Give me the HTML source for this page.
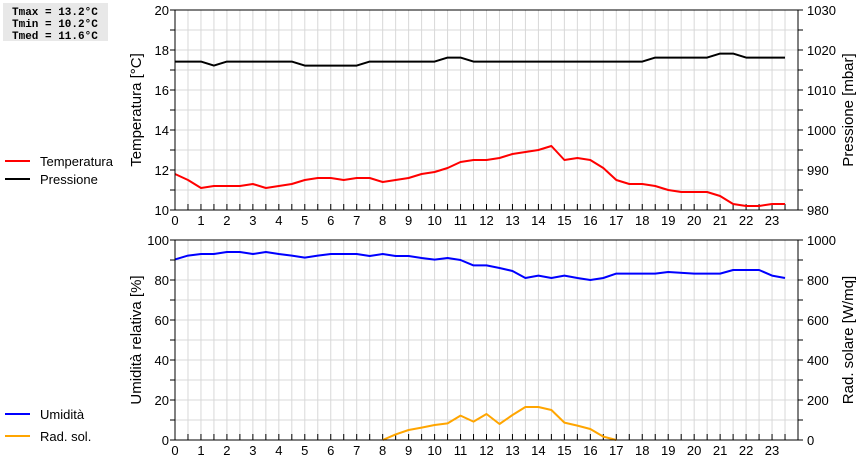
<!DOCTYPE html>
<html><head><meta charset="utf-8">
<style>
html,body{margin:0;padding:0;background:#fff;}
svg{display:block;font-family:"Liberation Sans",sans-serif;}
</style></head>
<body>
<svg id="chart" width="860" height="460" viewBox="0 0 860 460">
  <g>
    <rect x="3" y="3" width="105" height="38" fill="#e8e8e8"></rect>
    <text x="12" y="15" font-family="Liberation Mono, monospace" font-weight="bold" font-size="11">Tmax = 13.2°C</text>
    <text x="12" y="27" font-family="Liberation Mono, monospace" font-weight="bold" font-size="11">Tmin = 10.2°C</text>
    <text x="12" y="39" font-family="Liberation Mono, monospace" font-weight="bold" font-size="11">Tmed = 11.6°C</text>
  </g>
  <g>
    <line x1="5" y1="161" x2="30" y2="161" stroke="#f00" stroke-width="2"></line>
    <text x="40" y="166" font-size="13">Temperatura</text>
    <line x1="5" y1="179" x2="30" y2="179" stroke="#000" stroke-width="2"></line>
    <text x="40" y="184" font-size="13">Pressione</text>
  </g>
  <g>
    <line x1="5" y1="414" x2="30" y2="414" stroke="#00f" stroke-width="2"></line>
    <text x="40" y="419" font-size="13">Umidità</text>
    <line x1="5" y1="436" x2="30" y2="436" stroke="orange" stroke-width="2"></line>
    <text x="40" y="441" font-size="13">Rad. sol.</text>
  </g>
  <g id="plots"></g>
</svg>
<script>
const tempHours = [0,0.5,1,1.5,2,2.5,3,3.5,4,4.5,5,5.5,6,6.5,7,7.5,8,8.5,9,9.5,10,10.5,11,11.5,12,12.5,13,13.5,14,14.5,15,15.5,16,16.5,17,17.5,18,18.5,19,19.5,20,20.5,21,21.5,22,22.5,23,23.5];
const tempValues = [11.8,11.5,11.1,11.2,11.2,11.2,11.3,11.1,11.2,11.3,11.5,11.6,11.6,11.5,11.6,11.6,11.4,11.5,11.6,11.8,11.9,12.1,12.4,12.5,12.5,12.6,12.8,12.9,13.0,13.2,12.5,12.6,12.5,12.1,11.5,11.3,11.3,11.2,11.0,10.9,10.9,10.9,10.7,10.3,10.2,10.2,10.3,10.3];
const presHours = [0,1,1.5,2,4.5,5,7,7.5,10,10.5,11,11.5,18,18.5,20.5,21,21.5,22,23.5];
const presValues = [1017.1,1017.1,1016.1,1017.1,1017.1,1016.1,1016.1,1017.1,1017.1,1018.1,1018.1,1017.1,1017.1,1018.1,1018.1,1019.1,1019.1,1018.1,1018.1];
const humHours = [0,0.5,1,1.5,2,2.5,3,3.5,4,4.5,5,5.5,6,7,7.5,8,8.5,9,9.5,10,10.5,11,11.5,12,12.5,13,13.5,14,14.5,15,15.5,16,16.5,17,18.5,19,20,21,21.5,22.5,23,23.5];
const humValues = [90.3,92.2,93,93,94,94,93,94,93,92.2,91.2,92.2,93,93,92,93,92,92,91,90.2,91,90,87.3,87.3,86,84.5,81,82.2,81,82.2,81,80,81,83.2,83.2,84,83.2,83.2,85,85,82.2,81];
const radHours = [8,8.5,9,9.5,10,10.5,11,11.5,12,12.5,13,13.5,14,14.5,15,15.5,16,16.5,17];
const radValues = [0,28,50,62,75,83,122,92,130,80,125,165,165,150,87,72,55,17,0];
const xTickLabels = [0,1,2,3,4,5,6,7,8,9,10,11,12,13,14,15,16,17,18,19,20,21,22,23];
const tempTicks = [10,12,14,16,18,20];
const presTicks = [980,990,1000,1010,1020,1030];
const humTicks = [0,20,40,60,80,100];
const radTicks = [0,200,400,600,800,1000];

const NS="http://www.w3.org/2000/svg";
const X0=175, X1=798;
const xs = h => X0 + h*(X1-X0)/24;
function mk(parent, tag, attrs){const e=document.createElementNS(NS,tag);for(const k in attrs)e.setAttribute(k,attrs[k]);parent.appendChild(e);return e;}
const root=document.getElementById('plots');

function panel(name, top, bot, lMin, lMax, rMin, rMax, lTicks, rTicks, lTitle, rTitle, minorStep){
  const g=mk(root,'g',{});
  
  
  const yl=v=>bot-(v-lMin)*(bot-top)/(lMax-lMin);
  const yr=v=>bot-(v-rMin)*(bot-top)/(rMax-rMin);
  for(let h=0.5;h<24;h+=0.5){const l=mk(g,'line',{x1:xs(h),x2:xs(h),y1:top,y2:bot,stroke:'#d8d8d8','stroke-width':1});
    
    }
  for(let v=lMin+minorStep;v<lMax;v+=minorStep){const l=mk(g,'line',{x1:X0,x2:X1,y1:yl(v),y2:yl(v),stroke:'#d8d8d8','stroke-width':1});
    
    }
  for(let h=0.5;h<24;h+=0.5){mk(g,'line',{x1:xs(h),x2:xs(h),y1:bot,y2:bot-6,stroke:'#000'});}
  xTickLabels.forEach(t=>{const e=mk(g,'text',{x:xs(t),y:bot+15,'font-size':13,'text-anchor':'middle'});e.textContent=t;
    
    });
  for(let v=lMin;v<=lMax;v+=minorStep){mk(g,'line',{x1:X0-5,x2:X0,y1:yl(v),y2:yl(v),stroke:'#000'});mk(g,'line',{x1:X1,x2:X1+5,y1:yl(v),y2:yl(v),stroke:'#000'});}
  lTicks.forEach(t=>{const e=mk(g,'text',{x:X0-6,y:yl(t)+5,'font-size':13,'text-anchor':'end'});e.textContent=t;
    
    });
  rTicks.forEach(t=>{const e=mk(g,'text',{x:X1+9,y:yr(t)+5,'font-size':13});e.textContent=t;
    
    });
  const lt=mk(g,'text',{x:0,y:0,'font-size':15,'text-anchor':'middle',transform:`translate(141,${(top+bot)/2}) rotate(-90)`});lt.textContent=lTitle;
  
  
  const rt=mk(g,'text',{x:0,y:0,'font-size':15,'text-anchor':'middle',transform:`translate(853,${(top+bot)/2}) rotate(-90)`});rt.textContent=rTitle;
  
  
  return {g,yl,yr,top,bot};
}
function series(p, hours, vals, yf, color, name){
  const pts=hours.map((h,i)=>xs(h).toFixed(1)+','+yf(vals[i]).toFixed(1)).join(' ');
  const l=mk(p.g,'polyline',{points:pts,fill:'none',stroke:color,'stroke-width':2,'stroke-linejoin':'round'});
  
  
}
function frame(p){const r=mk(p.g,'rect',{x:X0,y:p.top,width:X1-X0,height:p.bot-p.top,fill:'none',stroke:'#000','stroke-width':1});
  
  }

const pTop=panel('temp-pressure-panel',10,210,10,20,980,1030,tempTicks,presTicks,'Temperatura [°C]','Pressione [mbar]',1);
series(pTop,presHours,presValues,pTop.yr,'#000','pressure-line');
series(pTop,tempHours,tempValues,pTop.yl,'#f00','temperature-line');
frame(pTop);
const pBot=panel('humidity-radiation-panel',240,440,0,100,0,1000,humTicks,radTicks,'Umidità relativa [%]','Rad. solare [W/mq]',10);
series(pBot,radHours,radValues,pBot.yr,'orange','radiation-line');
series(pBot,humHours,humValues,pBot.yl,'#00f','humidity-line');
frame(pBot);
</script>
</body></html>
